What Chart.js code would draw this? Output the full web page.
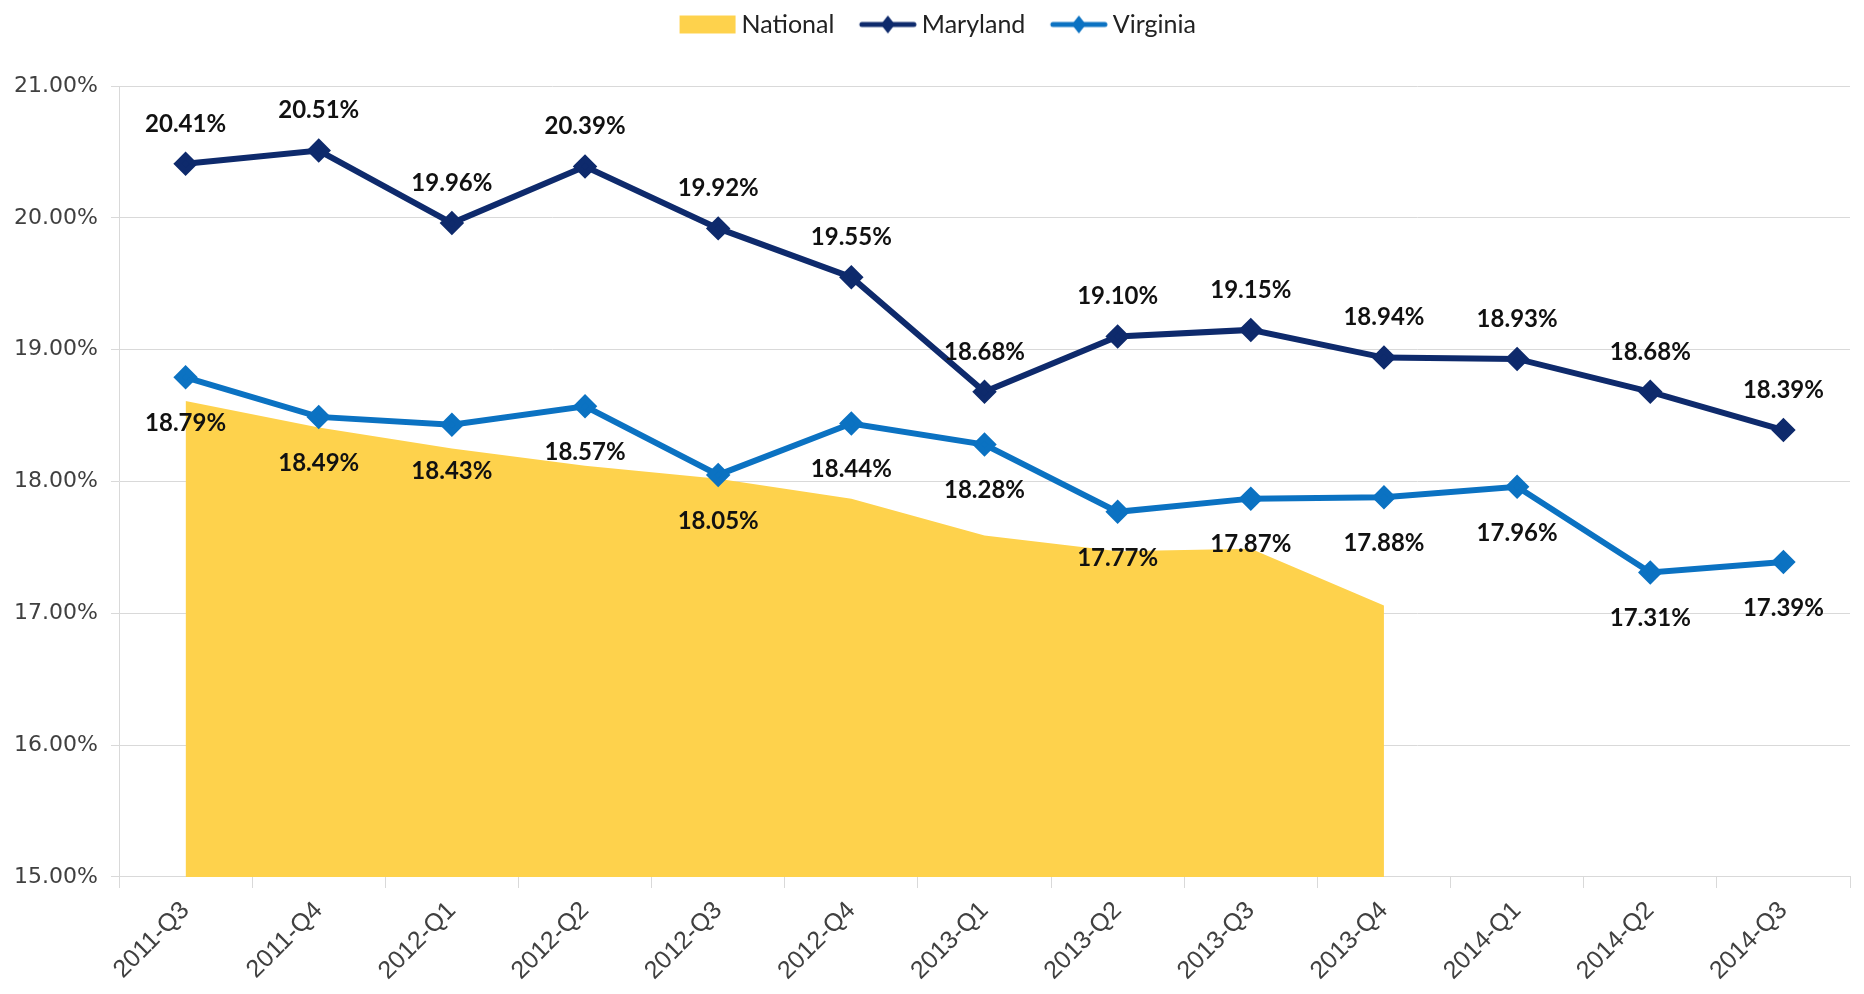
<!DOCTYPE html>
<html lang="en">
<head>
<meta charset="UTF-8">
<title>National / Maryland / Virginia</title>
<script src="https://cdn.jsdelivr.net/npm/chart.js"></script>
<style>
  body { margin: 0; background: #fff; }
  #wrap { width: 1864px; height: 994px; }
</style>
</head>
<body>
<div id="wrap"><canvas id="chart"></canvas></div>
<script>
// ---- data ----
const quarters = ['2011-Q3', '2011-Q4', '2012-Q1', '2012-Q2', '2012-Q3', '2012-Q4', '2013-Q1',
                  '2013-Q2', '2013-Q3', '2013-Q4', '2014-Q1', '2014-Q2', '2014-Q3'];
const national = [18.61, 18.41, 18.25, 18.12, 18.02, 17.87, 17.59, 17.47, 17.49, 17.06, null, null, null];
const maryland = [20.41, 20.51, 19.96, 20.39, 19.92, 19.55, 18.68, 19.10, 19.15, 18.94, 18.93, 18.68, 18.39];
const virginia = [18.79, 18.49, 18.43, 18.57, 18.05, 18.44, 18.28, 17.77, 17.87, 17.88, 17.96, 17.31, 17.39];
const yMin = 15, yMax = 21, yStep = 1;

const navy = '#0e2a6c';
const blue = '#0b72c2';
const gold = '#fed24c';

// little legend pictures: a filled box, or a line with a diamond on it.
// the picture is wider than the legend box so the icon sits close to its text
function legendIcon(color, kind) {
  const c = document.createElement('canvas');
  c.width = 82; c.height = 20;
  const g = c.getContext('2d');
  g.fillStyle = color;
  if (kind === 'box') {
    g.fillRect(23, 1, 56, 18);
  } else {
    g.strokeStyle = color; g.lineWidth = 5; g.lineCap = 'round';
    g.beginPath(); g.moveTo(25, 10); g.lineTo(77, 10); g.stroke();
    g.beginPath(); g.moveTo(51, 1); g.lineTo(58, 10); g.lineTo(51, 19); g.lineTo(44, 10); g.closePath(); g.fill();
  }
  return c;
}

// value labels above / below each marker
const valueLabels = {
  id: 'valueLabels',
  afterDatasetsDraw(chart) {
    const ctx = chart.ctx;
    ctx.save();
    ctx.font = 'bold 24px Lato';
    ctx.fillStyle = '#111';
    ctx.textAlign = 'center';
    ctx.textBaseline = 'middle';
    chart.data.datasets.forEach((ds, i) => {
      if (!ds.labelShift) return;
      chart.getDatasetMeta(i).data.forEach((pt, j) => {
        const v = ds.data[j];
        if (v == null) return;
        ctx.fillText(v.toFixed(2) + '%', pt.x, pt.y + ds.labelShift);
      });
    });
    ctx.restore();
  }
};

// extra room under the legend
const legendGap = {
  id: 'legendGap',
  beforeInit(chart) {
    const fit = chart.legend.fit;
    chart.legend.fit = function () {
      fit.bind(chart.legend)();
      this.height += 39;
    };
  }
};

const ctx = document.getElementById('chart');
new Chart(ctx, {
  type: 'line',
  data: {
    labels: quarters,
    datasets: [
      {
        label: 'National',
        data: national,
        backgroundColor: gold,
        borderWidth: 0,
        pointRadius: 0,
        fill: 'start',
        order: 3,
        icon: legendIcon(gold, 'box')
      },
      {
        label: 'Maryland',
        data: maryland,
        borderColor: navy,
        backgroundColor: navy,
        borderWidth: 6,
        pointStyle: 'rectRot',
        pointRadius: 8,
        fill: false,
        order: 1,
        labelShift: -40,
        icon: legendIcon(navy, 'line')
      },
      {
        label: 'Virginia',
        data: virginia,
        borderColor: blue,
        backgroundColor: blue,
        borderWidth: 6,
        pointStyle: 'rectRot',
        pointRadius: 8,
        fill: false,
        order: 2,
        labelShift: 46,
        icon: legendIcon(blue, 'line')
      }
    ]
  },
  options: {
    responsive: true,
    maintainAspectRatio: false,
    animation: false,
    layout: { padding: { top: 0, right: 2, bottom: 0, left: 0 } },
    plugins: {
      tooltip: { enabled: false },
      legend: {
        position: 'top',
        labels: {
          usePointStyle: true,
          pointStyleWidth: 63,
          padding: 12,
          color: '#222',
          font: { family: 'Lato', size: 25 },
          generateLabels(chart) {
            return chart.data.datasets.map((ds, i) => ({
              text: ds.label,
              pointStyle: ds.icon,
              fillStyle: ds.backgroundColor,
              strokeStyle: ds.backgroundColor,
              lineWidth: 0,
              hidden: false,
              datasetIndex: i,
              fontColor: '#222'
            }));
          }
        }
      }
    },
    scales: {
      x: {
        offset: true,
        grid: { offset: true, drawOnChartArea: false, drawTicks: true, tickLength: 11, color: '#d9d9d9' },
        border: { color: '#d9d9d9' },
        ticks: {
          minRotation: 45, maxRotation: 45,
          padding: 8,
          color: '#404040',
          font: { family: 'Liberation Sans', size: 25 }
        }
      },
      y: {
        min: yMin, max: yMax,
        afterFit(scale) { scale.width = 119; },
        grid: { color: '#d9d9d9', tickLength: 8 },
        border: { color: '#d9d9d9' },
        ticks: {
          stepSize: yStep,
          padding: 13,
          color: '#404040',
          font: { family: 'DejaVu Sans', size: 22 },
          callback: v => v.toFixed(2) + '%'
        }
      }
    }
  },
  plugins: [valueLabels, legendGap]
});
</script>
</body>
</html>
